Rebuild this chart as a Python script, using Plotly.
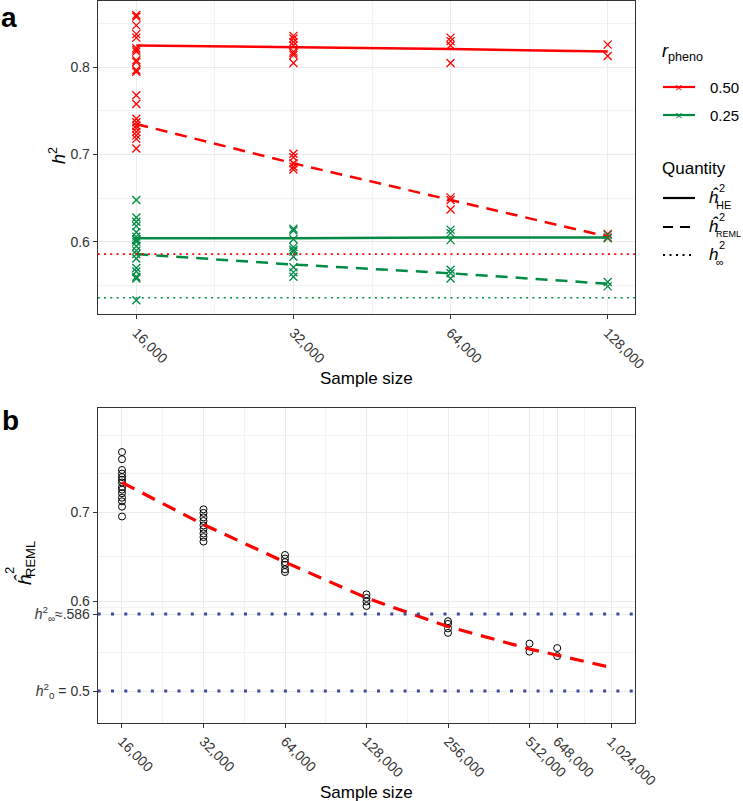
import plotly.graph_objects as go

W, H = 743, 801
FONT = "Liberation Sans, Arial, sans-serif"
RED = "#FF0000"
GREEN = "#008B45"
BLUE = "#3B4A9E"

# ---------------------------------------------------------------- panel a data
sizes_a = [16000, 32000, 64000, 128000]
size_labels_a = ["16,000", "32,000", "64,000", "128,000"]

# replicate estimates per sample size (r_pheno = 0.50)
he_050 = [
    [0.860, 0.858, 0.848, 0.838, 0.834, 0.822, 0.820, 0.818, 0.808, 0.806, 0.797, 0.795],
    [0.836, 0.833, 0.829, 0.825, 0.818, 0.816, 0.814, 0.805],
    [0.834, 0.830, 0.825, 0.805],
    [0.826, 0.813],
]
reml_050 = [
    [0.768, 0.758, 0.741, 0.737, 0.733, 0.730, 0.726, 0.722, 0.718, 0.707],
    [0.701, 0.697, 0.690, 0.686, 0.683],
    [0.651, 0.648, 0.637],
    [0.609, 0.605],
]
# r_pheno = 0.25
he_025 = [
    [0.648, 0.628, 0.623, 0.611, 0.606, 0.603, 0.600, 0.590, 0.570, 0.558],
    [0.615, 0.613, 0.603, 0.594, 0.591],
    [0.614, 0.610, 0.602],
    [0.608, 0.604],
]
reml_025 = [
    [0.618, 0.602, 0.595, 0.586, 0.581, 0.566, 0.560, 0.533],
    [0.589, 0.583, 0.571, 0.565, 0.560],
    [0.568, 0.564, 0.558],
    [0.554, 0.549],
]

# fitted lines
he_050_fit = [0.825, 0.823, 0.821, 0.818]
reml_050_fit = [0.735, 0.690, 0.648, 0.606]
he_025_fit = [0.604, 0.604, 0.605, 0.605]
reml_025_fit = [0.586, 0.574, 0.564, 0.552]

h_inf_050 = 0.586
h_inf_025 = 0.536

# ---------------------------------------------------------------- panel b data
sizes_b = [16000, 32000, 64000, 128000, 256000, 512000, 648000]
tick_sizes_b = [16000, 32000, 64000, 128000, 256000, 512000, 648000, 1024000]
tick_labels_b = ["16,000", "32,000", "64,000", "128,000", "256,000", "512,000", "648,000", "1,024,000"]

reml_b = [
    [0.767, 0.759, 0.747, 0.743, 0.739, 0.736, 0.733, 0.728, 0.725, 0.721, 0.716, 0.712, 0.706, 0.695],
    [0.703, 0.699, 0.694, 0.690, 0.685, 0.681, 0.676, 0.672, 0.667],
    [0.652, 0.648, 0.644, 0.641, 0.636, 0.633],
    [0.608, 0.604, 0.600, 0.595],
    [0.578, 0.575, 0.570, 0.565],
    [0.553, 0.544],
    [0.548, 0.539],
]

curve_x = [16000, 32000, 64000, 128000, 256000, 512000, 648000, 1000000]
curve_y = [0.733, 0.686, 0.644, 0.604, 0.572, 0.547, 0.540, 0.527]

h2_inf = 0.586
h2_0 = 0.5


def flat(sizes, groups):
    xs, ys = [], []
    for s, vals in zip(sizes, groups):
        xs += [s] * len(vals)
        ys += vals
    return xs, ys


def px(x, y):
    """pixel position -> paper coords"""
    return x / W, 1 - y / H


fig = go.Figure()

# ---- panel a: points
for groups, color in [(he_050, RED), (reml_050, RED), (he_025, GREEN), (reml_025, GREEN)]:
    xs, ys = flat(sizes_a, groups)
    fig.add_trace(go.Scatter(
        x=xs, y=ys, mode="markers", xaxis="x", yaxis="y", showlegend=False,
        marker=dict(symbol="x-thin", size=8, color=color, line=dict(width=1.3, color=color)),
    ))

# ---- panel a: fitted lines
for fit, color, dash in [(he_050_fit, RED, "solid"), (reml_050_fit, RED, "12px,8px"),
                         (he_025_fit, GREEN, "solid"), (reml_025_fit, GREEN, "12px,8px")]:
    fig.add_trace(go.Scatter(
        x=sizes_a, y=fit, mode="lines", xaxis="x", yaxis="y", showlegend=False,
        line=dict(color=color, width=2.5, dash=dash),
    ))

for val, color in [(h_inf_050, RED), (h_inf_025, GREEN)]:
    fig.add_shape(type="line", xref="x domain", yref="y", x0=0, x1=1, y0=val, y1=val,
                  line=dict(color=color, width=1.6, dash="2px,4.3px"))

# ---- panel b
for val in [h2_inf, h2_0]:
    fig.add_shape(type="line", xref="x2 domain", yref="y2", x0=0, x1=1, y0=val, y1=val,
                  line=dict(color=BLUE, width=3, dash="3px,10.3px"))

xs, ys = flat(sizes_b, reml_b)
fig.add_trace(go.Scatter(
    x=xs, y=ys, mode="markers", xaxis="x2", yaxis="y2", showlegend=False,
    marker=dict(symbol="circle-open", size=7, color="black", line=dict(width=1, color="black")),
))
fig.add_trace(go.Scatter(
    x=curve_x, y=curve_y, mode="lines", xaxis="x2", yaxis="y2", showlegend=False,
    line=dict(color=RED, width=3.2, dash="14px,9px"),
))

# ---- axes
axis_common = dict(
    showline=True, mirror=True, linecolor="#333333", linewidth=1,
    ticks="outside", ticklen=4, tickcolor="#333333", automargin=False,
    showgrid=True, gridcolor="#EBEBEB", gridwidth=1, zeroline=False,
    tickfont=dict(family=FONT, size=14, color="#333333"),
)
minor_common = dict(showgrid=True, gridcolor="#F2F2F2", gridwidth=0.7, ticks="")

x_dom = [97.7 / W, 635.3 / W]
fig.update_layout(
    xaxis=dict(axis_common, type="log", domain=x_dom, anchor="y",
               range=[4.1301, 5.1601], tickmode="array", tickvals=sizes_a,
               ticktext=size_labels_a, tickangle=45,
               minor=dict(minor_common, tickmode="array", tickvals=[22627, 45255, 90510])),
    yaxis=dict(axis_common, domain=[1 - 314.3 / H, 0.999], anchor="x",
               range=[0.5170, 0.8762], tickmode="array", tickvals=[0.6, 0.7, 0.8],
               ticktext=["0.6", "0.7", "0.8"],
               minor=dict(minor_common, tickmode="array", tickvals=[0.55, 0.65, 0.75, 0.85])),
    xaxis2=dict(axis_common, type="log", domain=x_dom, anchor="y2",
                range=[4.1144, 6.1000], tickmode="array", tickvals=tick_sizes_b,
                ticktext=tick_labels_b, tickangle=45,
                minor=dict(minor_common, tickmode="array",
                           tickvals=[22627, 45255, 90510, 181019, 362039, 576000, 814600])),
    yaxis2=dict(axis_common, domain=[1 - 722.7 / H, 1 - 408.3 / H], anchor="x2",
                range=[0.4646, 0.8159], tickmode="array", tickvals=[h2_0, h2_inf, 0.6, 0.7],
                ticktext=["<i>h</i><sup>2</sup><sub>0</sub> = 0.5",
                          "<i>h</i><sup>2</sup><sub>∞</sub>≈.586", "0.6", "0.7"],
                minor=dict(minor_common, tickmode="array",
                           tickvals=[0.543, 0.593, 0.65, 0.743, 0.786])),
)

# ---- text: panel labels, axis titles, legend
ann = []


def text(x, y, t, size=15, color="black", xanchor="center", angle=0, yanchor="middle"):
    ax, ay = px(x, y)
    ann.append(dict(x=ax, y=ay, xref="paper", yref="paper", text=t, showarrow=False,
                    xanchor=xanchor, yanchor=yanchor, textangle=angle,
                    font=dict(family=FONT, size=size, color=color)))


text(9, 17, "<b>a</b>", size=28)
text(10, 421, "<b>b</b>", size=28)
text(366.5, 378, "Sample size", size=17)
text(366.5, 792, "Sample size", size=17)
text(57, 156, "<i>h</i><sup>2</sup>", size=18, angle=-90)

# y title panel b (stacked super/subscript)
text(24, 580, "<i>ĥ</i>", size=19, angle=-90)
text(9, 571, "2", size=13, angle=-90)
text(30, 559, "REML", size=13, angle=-90)

# legend r_pheno
text(660, 52, "<i>r</i><sub>pheno</sub>", size=18, xanchor="left")
for y, color, lab in [(87, RED, "0.50"), (115, GREEN, "0.25")]:
    fig.add_shape(type="line", xref="paper", yref="paper",
                  x0=px(663, y)[0], x1=px(695, y)[0], y0=px(663, y)[1], y1=px(695, y)[1],
                  line=dict(color=color, width=2.2))
    text(679, y, "×", size=13, color=color)
    text(708, y, lab, size=15, xanchor="left")

# legend Quantity
text(660, 168, "Quantity", size=17, xanchor="left")
for y, dash, sub in [(198, "solid", "HE"), (227, "10px,7px", "REML"), (255, "2px,4.5px", "∞")]:
    fig.add_shape(type="line", xref="paper", yref="paper",
                  x0=px(663, y)[0], x1=px(695, y)[0], y0=px(663, y)[1], y1=px(695, y)[1],
                  line=dict(color="black", width=2.2, dash=dash))
    hch = "<i>h</i>" if sub == "∞" else "<i>ĥ</i>"
    text(707, y - 1, hch, size=17, xanchor="left")
    text(717, y - 10, "2", size=11, xanchor="left")
    text(714, y + 7, sub, size=9 if sub == "REML" else 11, xanchor="left")

fig.update_layout(
    annotations=ann,
    width=W, height=H,
    margin=dict(l=0, r=0, t=0, b=0),
    paper_bgcolor="white", plot_bgcolor="white",
    font=dict(family=FONT, color="black"),
    showlegend=False,
)

# page body has a default 8px margin; drop it so the figure fills the window
fig.write_html("out.html", config={"displayModeBar": False},
               post_script="document.body.style.margin='0px';")
